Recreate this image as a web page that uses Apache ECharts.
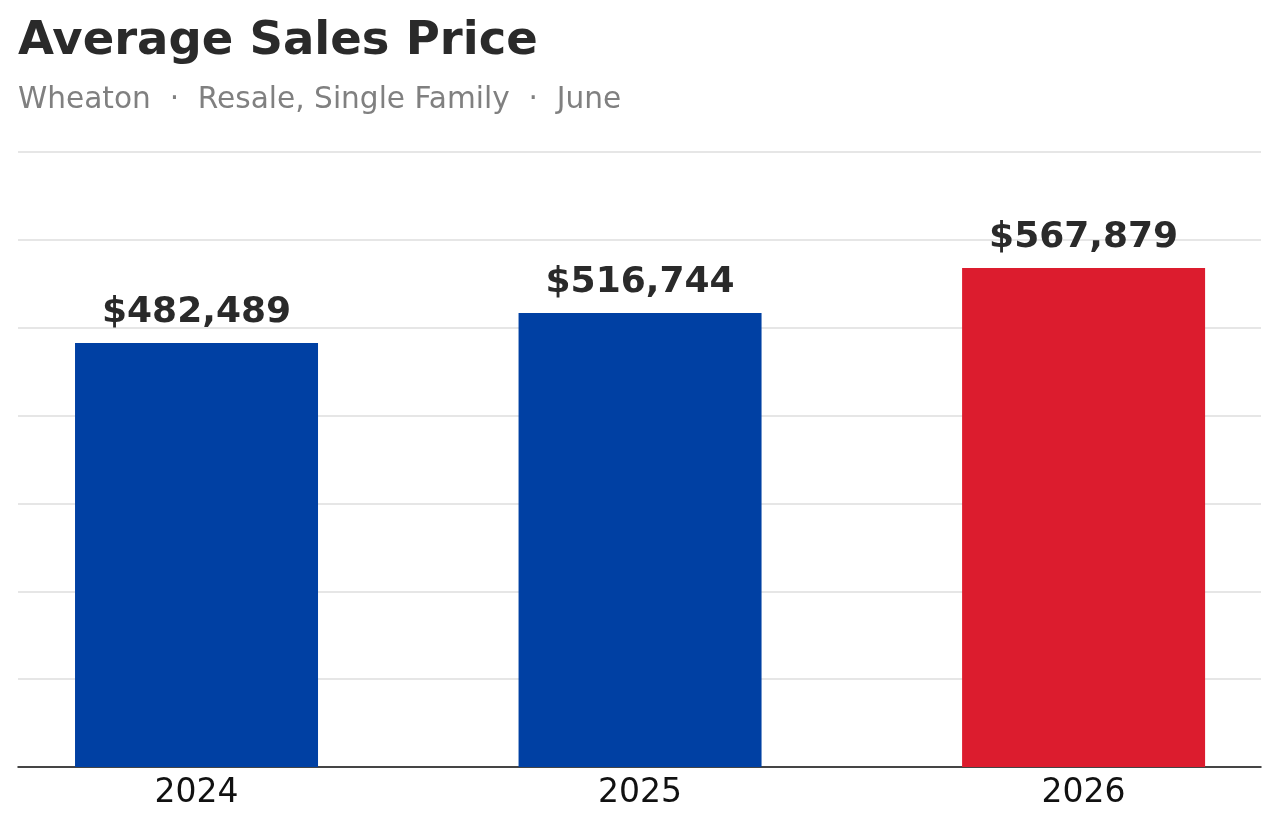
<!DOCTYPE html>
<html>
<head>
<meta charset="utf-8">
<script src="https://cdn.jsdelivr.net/npm/echarts@6/dist/echarts.min.js"></script>
<style>
html,body{margin:0;padding:0;background:#fff;}
#chart{width:1280px;height:826px;}
</style>
</head>
<body>
<div id="chart"></div>
<script>
const categories = ['2024', '2025', '2026'];
const values = [482489, 516744, 567879];
const barColors = ['#0040A3', '#0040A3', '#DC1C2E'];
const yMax = 700000;
const yInterval = 100000;

const chart = echarts.init(document.getElementById('chart'));
chart.setOption({
  backgroundColor: '#ffffff',
  animation: false,
  title: {
    text: 'Average Sales Price',
    subtext: 'Wheaton  ·  Resale, Single Family  ·  June',
    left: 13,
    top: 13,
    itemGap: 20,
    textStyle: { fontFamily: 'DejaVu Sans', fontWeight: 'bold', fontSize: 46.5, color: '#2a2a2a' },
    subtextStyle: { fontFamily: 'DejaVu Sans', fontSize: 29.6, color: '#808080' }
  },
  grid: { left: 18, right: 19, top: 152, bottom: 59, containLabel: false },
  xAxis: {
    type: 'value',
    min: -0.4025,
    max: 2.4,
    axisLine: { onZero: false, lineStyle: { color: '#111', width: 1.5 } },
    axisTick: { show: false },
    splitLine: { show: false },
    axisLabel: {
      customValues: categories.map((c, i) => i),
      formatter: v => categories[Math.round(v)],
      fontFamily: 'DejaVu Sans', fontSize: 33, color: '#111', margin: 10
    }
  },
  yAxis: {
    type: 'value', min: 0, max: yMax, interval: yInterval,
    axisLine: { show: false }, axisTick: { show: false }, axisLabel: { show: false },
    splitLine: { lineStyle: { color: '#e6e6e6', width: 2 } }
  },
  series: [{
    type: 'bar',
    barWidth: 243,
    data: values.map((v, i) => ({ value: [i, v], itemStyle: { color: barColors[i] } })),
    label: {
      show: true,
      position: 'top',
      distance: 12,
      fontFamily: 'DejaVu Sans',
      fontWeight: 'bold',
      fontSize: 36,
      color: '#2a2a2a',
      formatter: p => '$' + p.value[1].toLocaleString('en-US')
    }
  }]
});
</script>
</body>
</html>
